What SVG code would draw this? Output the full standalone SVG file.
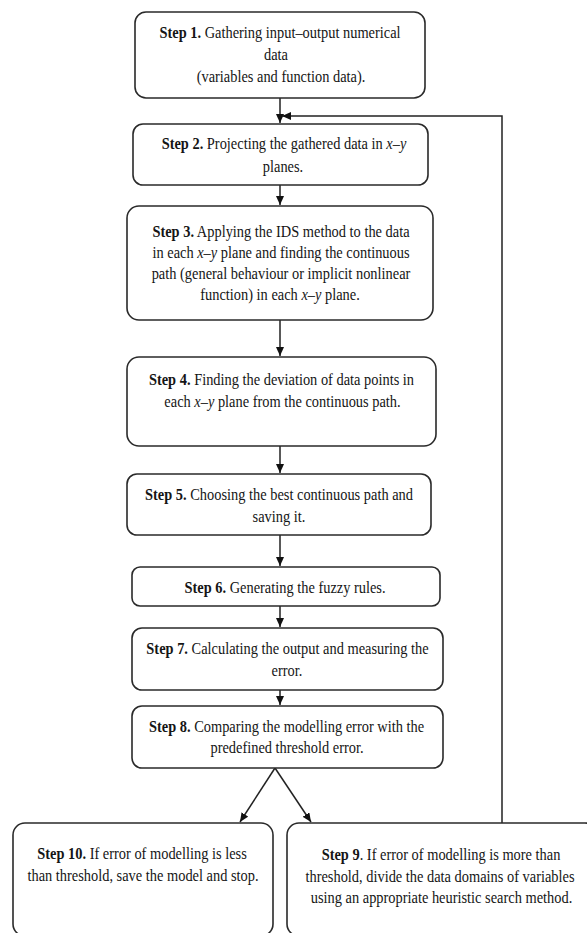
<svg xmlns="http://www.w3.org/2000/svg" width="587" height="933" viewBox="0 0 587 933">
<defs>
<style>
.box{fill:#fff;stroke:#2a2a2a;stroke-width:1.6}
.t{font-family:"Liberation Serif","Times New Roman",serif;font-size:16px;fill:#151515;text-anchor:middle}
.b{font-weight:bold}
.i{font-style:italic}
.c{fill:none;stroke:#222;stroke-width:1.5}
</style>
<marker id="ah" markerUnits="userSpaceOnUse" markerWidth="9" markerHeight="8" refX="9" refY="4" orient="auto">
<path d="M0,0 L9,4 L0,8 z" fill="#111"/>
</marker>
</defs>
<rect width="587" height="933" fill="#fff"/>
<g id="connectors">
<line class="c" x1="280" y1="98" x2="280" y2="123" marker-end="url(#ah)"/>
<line class="c" x1="280" y1="185" x2="280" y2="205" marker-end="url(#ah)"/>
<line class="c" x1="280" y1="320" x2="280" y2="356" marker-end="url(#ah)"/>
<line class="c" x1="280" y1="446" x2="280" y2="473" marker-end="url(#ah)"/>
<line class="c" x1="280" y1="535" x2="280" y2="566" marker-end="url(#ah)"/>
<line class="c" x1="280" y1="606" x2="280" y2="627" marker-end="url(#ah)"/>
<line class="c" x1="280" y1="690" x2="280" y2="705" marker-end="url(#ah)"/>
<line class="c" x1="275" y1="768" x2="240" y2="822" marker-end="url(#ah)"/>
<line class="c" x1="275" y1="768" x2="311" y2="822" marker-end="url(#ah)"/>
<polyline class="c" points="502,823 502,116 282,116" marker-end="url(#ah)"/>
</g>
<g id="step1">
<rect class="box" x="135" y="12" width="290" height="86" rx="11"/>
<text class="t" transform="translate(280 38) scale(0.9 1)"><tspan class="b">Step 1.</tspan> Gathering input–output numerical</text>
<text class="t" transform="translate(276 59.5) scale(0.9 1)">data</text>
<text class="t" transform="translate(281 81.5) scale(0.9 1)">(variables and function data).</text>
</g>
<g id="step2">
<rect class="box" x="133" y="124" width="295" height="61" rx="10"/>
<text class="t" transform="translate(284 149) scale(0.9 1)"><tspan class="b">Step 2.</tspan> Projecting the gathered data in <tspan class="i">x–y</tspan></text>
<text class="t" transform="translate(283 172) scale(0.9 1)">planes.</text>
</g>
<g id="step3">
<rect class="box" x="127" y="206" width="306" height="114" rx="12"/>
<text class="t" transform="translate(281 236.5) scale(0.9 1)"><tspan class="b">Step 3.</tspan> Applying the IDS method to the data</text>
<text class="t" transform="translate(281 257.5) scale(0.9 1)">in each <tspan class="i">x–y</tspan> plane and finding the continuous</text>
<text class="t" transform="translate(281 278.5) scale(0.9 1)">path (general behaviour or implicit nonlinear</text>
<text class="t" transform="translate(280 300) scale(0.9 1)">function) in each <tspan class="i">x–y</tspan> plane.</text>
</g>
<g id="step4">
<rect class="box" x="127" y="357" width="309" height="89" rx="12"/>
<text class="t" transform="translate(281.5 385) scale(0.9 1)"><tspan class="b">Step 4.</tspan> Finding the deviation of data points in</text>
<text class="t" transform="translate(282.5 406.5) scale(0.9 1)">each <tspan class="i">x–y</tspan> plane from the continuous path.</text>
</g>
<g id="step5">
<rect class="box" x="127" y="474" width="304" height="61" rx="10"/>
<text class="t" transform="translate(279 500) scale(0.9 1)"><tspan class="b">Step 5.</tspan> Choosing the best continuous path and</text>
<text class="t" transform="translate(279 521.5) scale(0.9 1)">saving it.</text>
</g>
<g id="step6">
<rect class="box" x="132" y="567" width="308" height="39" rx="8"/>
<text class="t" transform="translate(285 592.5) scale(0.9 1)"><tspan class="b">Step 6.</tspan> Generating the fuzzy rules.</text>
</g>
<g id="step7">
<rect class="box" x="132" y="628" width="311" height="62" rx="10"/>
<text class="t" transform="translate(287.5 654) scale(0.9 1)"><tspan class="b">Step 7.</tspan> Calculating the output and measuring the</text>
<text class="t" transform="translate(287 676) scale(0.9 1)">error.</text>
</g>
<g id="step8">
<rect class="box" x="132" y="706" width="311" height="62" rx="10"/>
<text class="t" transform="translate(286.5 731.5) scale(0.9 1)"><tspan class="b">Step 8.</tspan> Comparing the modelling error with the</text>
<text class="t" transform="translate(287 753) scale(0.9 1)">predefined threshold error.</text>
</g>
<g id="step10">
<rect class="box" x="13" y="823" width="260" height="113" rx="12"/>
<text class="t" transform="translate(142 859) scale(0.9 1)"><tspan class="b">Step 10.</tspan> If error of modelling is less</text>
<text class="t" transform="translate(143 880.5) scale(0.9 1)">than threshold, save the model and stop.</text>
</g>
<g id="step9">
<rect class="box" x="287" y="823" width="310" height="113" rx="12"/>
<text class="t" transform="translate(441 860) scale(0.9 1)"><tspan class="b">Step 9</tspan>. If error of modelling is more than</text>
<text class="t" transform="translate(440 881.5) scale(0.9 1)">threshold, divide the data domains of variables</text>
<text class="t" transform="translate(441.5 903) scale(0.9 1)">using an appropriate heuristic search method.</text>
</g>
</svg>
